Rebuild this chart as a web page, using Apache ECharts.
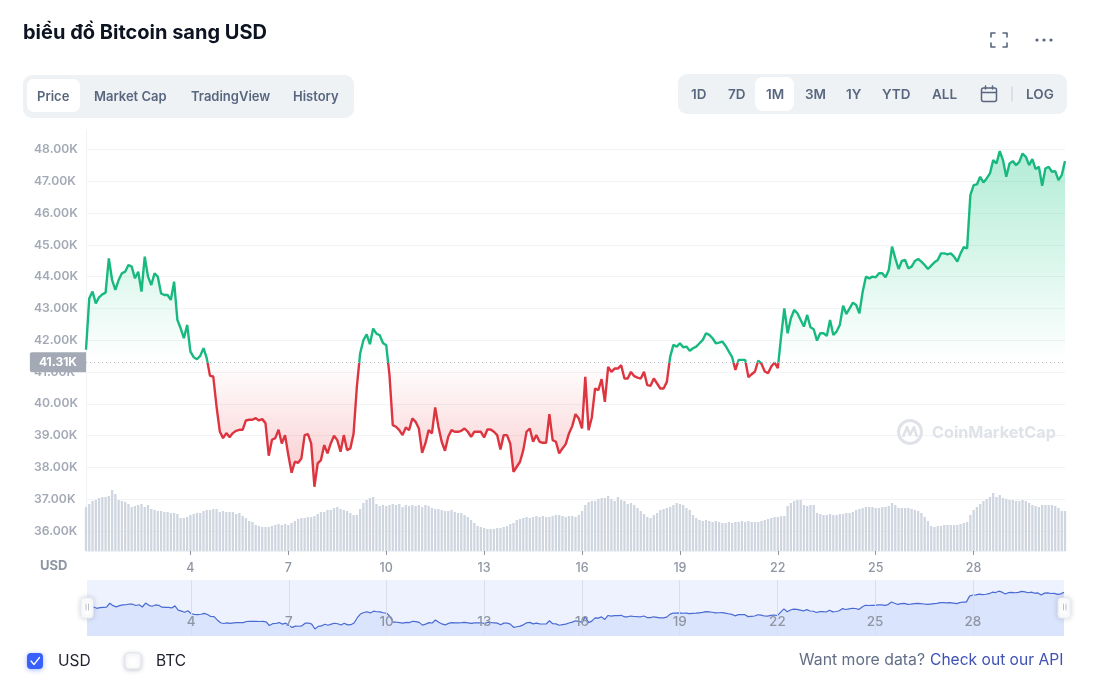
<!DOCTYPE html>
<html><head><meta charset="utf-8">
<style>html,body{margin:0;padding:0;background:#fff}#c{width:1093px;height:685px}</style>
<script src="https://cdn.jsdelivr.net/npm/echarts@6/dist/echarts.min.js"></script>
</head><body><div id="c"></div>
<script>
const baseline = 41310;
const priceTicks = [36000,37000,38000,39000,40000,41000,42000,43000,44000,45000,46000,47000,48000];
const shownDays = [4,7,10,13,16,19,22,25,28];
const prices = [
41700,43319,43529,43162,43351,43445,43497,44576,43895,43581,43895,44105,44157,44366,44314,
43948,44157,43529,44628,44000,43738,44105,44000,43476,43424,43424,43267,43843,42639,42377,
42063,42482,41644,41466,41403,41508,41749,41435,40880,40859,39917,39131,38922,39079,38953,
39079,39152,39184,39184,39477,39498,39498,39550,39477,39519,39393,38367,38870,38922,39184,
38754,39016,38388,37833,38178,38147,38283,39016,39047,38754,37393,38126,38231,38702,38440,
38754,38995,38859,38493,39016,38545,38597,39068,40534,41581,42000,42188,41874,42366,42209,
42157,41916,41843,40901,39330,39278,39173,39016,39257,39173,39540,39435,39225,38461,38754,
39173,39068,39885,39278,38807,38524,38964,39173,39121,39121,39152,39225,39121,38964,39121,
39121,39121,38943,39194,39194,39121,39016,38566,39016,39016,38754,37864,38021,38178,38545,
39121,39225,38807,39016,38807,38775,38775,39676,38859,38807,38440,38597,38733,39068,39299,
39676,39540,39225,40848,39173,39571,40482,40430,40775,40063,41162,41005,41110,41110,41215,
40796,40796,41005,40869,40827,40796,41005,40587,40566,40796,40639,40482,40482,40691,41477,
41854,41801,41906,41780,41801,41665,41749,41801,41906,42011,42220,42168,42063,41906,41927,
41958,41822,41644,41466,41068,41382,41382,41382,40838,40932,41016,41362,41257,41016,40964,
41173,41299,41121,42115,43005,42220,42691,42953,42848,42639,42430,42796,42409,42346,41990,
42220,42220,42136,42639,42168,42272,42482,43089,42827,43005,43183,43110,42848,43529,44000,
43948,44000,43979,44105,44105,43979,44210,44943,44576,44241,44493,44524,44262,44315,44493,
44555,44472,44367,44241,44346,44451,44524,44733,44733,44702,44733,44629,44472,44733,44932,
44890,46566,46880,46901,47141,46963,47089,47246,47665,47560,47948,47665,47141,47560,47634,
47508,47613,47874,47770,47508,47696,47382,47456,46859,47403,47456,47299,47319,47037,47194,47634];
const volumes = [
44,47,50,51,53,54,54,55,61,57,51,50,49,47,44,
45,46,47,44,46,42,41,40,40,39,39,38,38,37,33,
33,34,36,37,38,38,40,41,41,42,42,39,40,39,39,
39,37,38,35,33,30,29,26,25,24,24,24,25,26,27,
26,27,26,28,30,32,33,33,34,34,35,37,39,39,41,
41,43,44,42,41,40,38,36,36,42,48,51,53,54,47,
45,46,45,46,47,46,47,44,46,45,46,45,46,44,46,
45,43,42,42,41,40,40,41,39,38,38,36,34,31,28,
25,24,23,22,22,22,23,23,24,25,27,28,31,32,33,
34,33,34,35,34,35,34,34,35,36,36,35,34,35,35,
34,36,40,46,49,50,50,52,53,53,55,52,50,54,51,
50,47,48,46,43,40,37,34,33,36,38,41,42,43,44,
46,48,47,46,43,41,36,33,31,30,31,30,29,30,29,
28,28,29,28,29,29,30,29,30,29,29,29,30,31,32,
33,34,34,35,35,45,48,50,51,51,46,45,46,46,38,
37,36,36,37,36,36,37,37,38,38,39,41,42,43,44,
44,44,43,43,44,44,45,48,46,43,43,43,43,42,41,
40,38,34,30,25,24,25,25,26,26,26,26,26,27,28,
29,36,41,44,47,50,52,54,58,54,56,53,52,51,51,
50,50,51,50,48,46,45,44,46,46,46,46,45,43,40,40];
// category = day of month, ten samples per day
const categories = prices.map((_, i) => ((i - 2) / 10 + 1).toFixed(1));
const isShownDay = (i) => shownDays.includes(Number(categories[i]));

const FONT = 'Inter, sans-serif';
const green = '#18b97f', red = '#dd3540', ink = '#58667e', grey = '#a3a9b5';
const t = (text, x, y, font, fill, extra) => ({type:'text', z:50, silent:true, style:Object.assign({text, x, y, font:font+' '+FONT, fill, textVerticalAlign:'middle'}, extra||{})});
const box = (x, y, w, h, r, fill, extra) => ({type:'rect', z:40, silent:true, shape:{x,y,width:w,height:h,r}, style:Object.assign({fill}, extra||{})});
const line = (x1,y1,x2,y2,stroke,w) => ({type:'line', z:50, silent:true, shape:{x1,y1,x2,y2}, style:{stroke, lineWidth:w||1.5, lineCap:'round'}});
const poly = (pts,stroke,w) => ({type:'polyline', z:50, silent:true, shape:{points:pts}, style:{stroke, lineWidth:w||1.5, fill:null, lineCap:'round', lineJoin:'round'}});
const dot = (x,y,r,fill) => ({type:'circle', z:50, silent:true, shape:{cx:x,cy:y,r}, style:{fill}});

const tabFont = '600 13px', rangeFont = '600 13.5px';
const graphics = [
  poly([[991,37],[991,33],[995,33]],'#58667e',1.6), poly([[1003,33],[1007,33],[1007,37]],'#58667e',1.6),
  poly([[991,43],[991,47],[995,47]],'#58667e',1.6), poly([[1003,47],[1007,47],[1007,43]],'#58667e',1.6),
  dot(1037,40,1.6,'#58667e'), dot(1044,40,1.6,'#58667e'), dot(1051,40,1.6,'#58667e'),
  box(23,75,331,43,9,'#eff2f5'), box(27,79,53,33,7,'#ffffff'),
  t('Price',37,97,tabFont,ink), t('Market Cap',94,97,tabFont,ink), t('TradingView',191,97,tabFont,ink), t('History',293,97,tabFont,ink),
  box(678,74,389,40,9,'#eff2f5'), box(755,77,39,34,8,'#ffffff'),
  t('1D',691,95,rangeFont,ink), t('7D',728,95,rangeFont,ink), t('1M',766,95,rangeFont,ink), t('3M',805,95,rangeFont,ink),
  t('1Y',846,95,rangeFont,ink), t('YTD',882,95,rangeFont,ink), t('ALL',932,95,rangeFont,ink), t('LOG',1026,95,rangeFont,ink),
  {type:'rect', z:50, silent:true, shape:{x:981.5,y:88,width:15,height:13.5,r:2}, style:{fill:null,stroke:ink,lineWidth:1.5}},
  line(982,92.5,996,92.5,ink,1.5), line(985.5,86,985.5,89,ink,1.5), line(992.5,86,992.5,89,ink,1.5),
  line(1012,87,1012,101,'#d5d9e0',1.5),
  t('USD',40,566,'700 13px','#8f96a3'),
  {type:'circle', z:5, silent:true, shape:{cx:910,cy:432,r:11.5}, style:{fill:null,stroke:'#dfe3e8',lineWidth:3}},
  {type:'polyline', z:5, silent:true, shape:{points:[[903,437],[907,427],[910,435],[914,427],[917,437]]}, style:{fill:null,stroke:'#dfe3e8',lineWidth:2.6,lineJoin:'round'}},
  {type:'text', z:5, silent:true, style:{text:'CoinMarketCap', x:932, y:433, font:'700 16.2px '+FONT, fill:'#dfe3e8', textVerticalAlign:'middle'}},
  line(86,604,86,610,'#b9c0cc',1), line(88.5,604,88.5,610,'#b9c0cc',1),
  line(1063.5,604,1063.5,610,'#b9c0cc',1), line(1066,604,1066,610,'#b9c0cc',1),
  box(27,653,16,16,4,'#3861fb',{shadowBlur:5,shadowColor:'rgba(56,97,251,.45)',shadowOffsetY:1}),
  poly([[31,661],[34,664.5],[39.5,657.5]],'#ffffff',1.3),
  t('USD',58,661,'400 15.5px','#222531'),
  box(125,653,16,16,4,'#ffffff',{stroke:'#e2e5ea',lineWidth:1,shadowBlur:4,shadowColor:'rgba(88,102,126,.3)',shadowOffsetY:1}),
  t('BTC',156,661,'400 15.5px','#222531'),
  t('Want more data?',799,660,'400 15.8px','#616e85'),
  t('Check out our API',930,660,'400 15.6px','#3f51b5')
];

const maxPrice = Math.max(...prices), minPrice = Math.min(...prices);
const split = (maxPrice - baseline) / (maxPrice - minPrice);

const chart = echarts.init(document.getElementById('c'), null, {renderer:'canvas'});
chart.setOption({
  animation:false,
  backgroundColor:'#ffffff',
  textStyle:{fontFamily:FONT},
  title:{text:'biểu đồ Bitcoin sang USD', left:18, top:18, textStyle:{fontFamily:FONT, fontSize:20, fontWeight:700, color:'#0d1421'}},
  grid:[
    {left:86, right:28, top:130, bottom:134},
    {left:87, right:29, top:580, height:56, show:true, backgroundColor:'#eef2fe', borderWidth:0, z:1}
  ],
  xAxis:[
    {type:'category', gridIndex:0, data:categories, boundaryGap:false,
     axisLine:{show:true, lineStyle:{color:'#eff2f5', width:1}},
     axisTick:{show:true, alignWithLabel:true, interval:isShownDay, length:4, lineStyle:{color:'#8f96a3', width:1}},
     axisLabel:{interval:isShownDay, margin:11, color:'#8f96a3', fontSize:12.5, fontWeight:500, fontFamily:FONT, formatter:(v)=>String(parseInt(v))},
     splitLine:{show:false}},
    {type:'category', gridIndex:1, data:categories, boundaryGap:false, z:6,
     axisLine:{show:false}, axisTick:{show:false},
     axisLabel:{inside:true, interval:isShownDay, margin:7, color:'#8f96a3', fontSize:13.5, fontWeight:500, fontFamily:FONT, formatter:(v)=>String(parseInt(v))},
     splitLine:{show:true, interval:isShownDay, lineStyle:{color:'#d8deec', width:1}}}
  ],
  yAxis:[
    {type:'value', gridIndex:0, min:35371, max:48613, scale:true,
     axisLine:{show:true, lineStyle:{color:'#eff2f5'}},
     axisTick:{show:false, customValues:priceTicks},
     axisLabel:{customValues:priceTicks, align:'left', margin:52, padding:[3,0,0,0], color:grey, fontSize:12.2, fontWeight:600, fontFamily:FONT,
       formatter:(v)=>(v/1000).toFixed(2)+'K'},
     splitLine:{show:true, lineStyle:{color:'#f1f3f6', width:1}}},
    {type:'value', gridIndex:0, min:0, max:421, show:false, splitLine:{show:false}},
    {type:'value', gridIndex:1, min:35430, max:51070, show:false, splitLine:{show:false}}
  ],
  dataZoom:[{type:'slider', xAxisIndex:[0,1], filterMode:'none', start:0, end:100, left:85, right:29, top:580, height:56,
    showDetail:false, showDataShadow:false, brushSelect:false, moveHandleSize:0,
    backgroundColor:'transparent', borderColor:'transparent', fillerColor:'transparent',
    handleIcon:'path://M3,0 H9 A3,3 0 0 1 12,3 V17 A3,3 0 0 1 9,20 H3 A3,3 0 0 1 0,17 V3 A3,3 0 0 1 3,0 Z',
    handleSize:20,
    handleStyle:{color:'#ffffff', borderColor:'#eceff4', borderWidth:1, shadowBlur:5, shadowColor:'rgba(88,102,126,.28)'},
    emphasis:{handleStyle:{color:'#ffffff', borderColor:'#eceff4'}}
  }],
  series:[
    {name:'Volume', type:'bar', xAxisIndex:0, yAxisIndex:1, data:volumes, barWidth:2.3, silent:true, z:1,
     itemStyle:{color:'#cfd6e0'}},
    {name:'Price', type:'line', xAxisIndex:0, yAxisIndex:0, data:prices, showSymbol:false, symbol:'none', z:3,
     lineStyle:{width:2.4, color:new echarts.graphic.LinearGradient(0,0,0,1,[
       {offset:0, color:green},{offset:split, color:green},{offset:split, color:red},{offset:1, color:red}])},
     areaStyle:{origin:baseline, opacity:1, color:new echarts.graphic.LinearGradient(0,0,0,1,[
       {offset:0, color:'rgba(22,199,132,0.33)'},
       {offset:split, color:'rgba(22,199,132,0)'},
       {offset:split, color:'rgba(234,57,67,0)'},
       {offset:1, color:'rgba(234,57,67,0.27)'}])},
     markLine:{silent:true, symbol:'none', animation:false,
       lineStyle:{color:'#b4b9c3', type:[1,3], width:1},
       label:{position:'start', distance:0, formatter:'41.31K', color:'#ffffff', fontFamily:FONT, fontSize:12, fontWeight:700,
         backgroundColor:'#a3a9b5', padding:[4,9,4,9], borderRadius:[2,0,0,2]},
       data:[{yAxis:baseline}]}},
    {name:'Navigator', type:'line', xAxisIndex:1, yAxisIndex:2, data:prices, showSymbol:false, symbol:'none', z:2, silent:true,
     lineStyle:{width:1.2, color:'#4a6bd1'}, areaStyle:{color:'#dbe4fd', opacity:1}}
  ],
  graphic:graphics
});
</script></body></html>
